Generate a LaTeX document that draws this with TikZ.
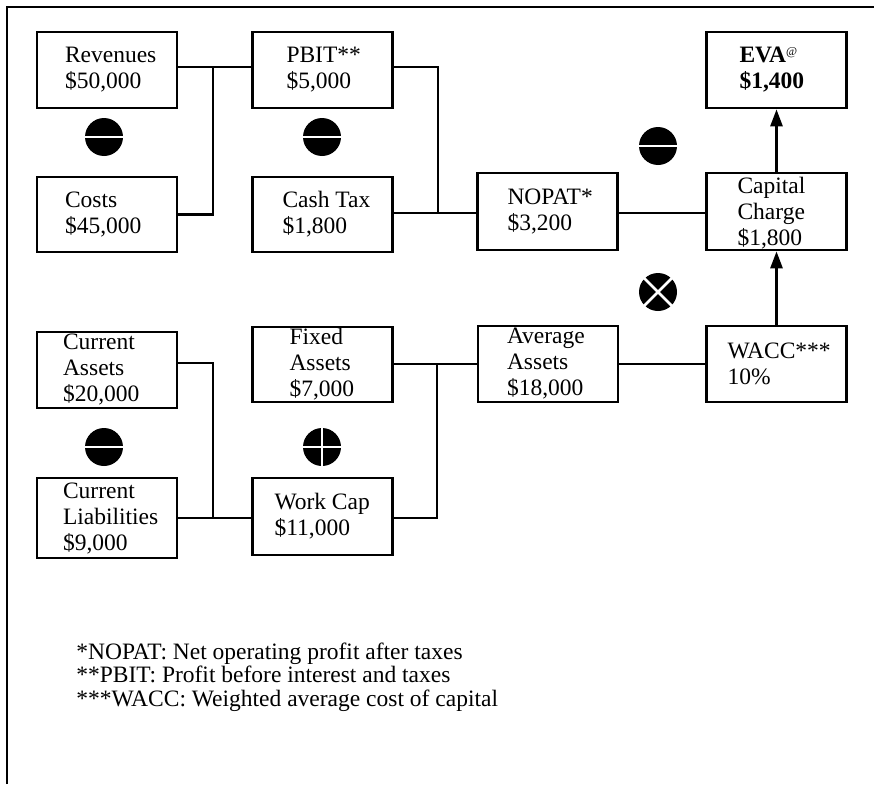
\documentclass[tikz,border=0pt]{standalone}
\usepackage{fontspec}
\setmainfont{Liberation Serif}
\usetikzlibrary{arrows.meta}
\begin{document}
\begin{tikzpicture}[x=1pt,y=-1pt,
  line width=2.7pt,
  box/.style={draw, rectangle, inner sep=0pt, minimum width=#1},
  box/.default=140pt,
  txt/.style={anchor=west, inner sep=0pt, align=left,
    font=\fontsize{23.5}{26}\selectfont},
  foot/.style={anchor=base west, inner sep=0pt,
    font=\fontsize{23.5}{26}\selectfont},
  op/.style={circle, fill=black, draw=none, inner sep=0pt, minimum size=38pt},
  cut/.style={draw=white, line width=2.8pt},
  link/.style={line width=2.7pt},
  flow/.style={line width=2.7pt, -{Triangle[length=17pt,width=12pt]}}
]
\useasboundingbox (0,0) rectangle (874,784);

% frame
\draw (7,784) -- (7,7) -- (874,7);

% income side
\node[box, minimum height=76pt] (rev)   at (107,70)    {};
\node[box, minimum height=75pt] (cost)  at (107,214.5) {};
\node[box, minimum height=76pt] (pbit)  at (322.5,70)  {};
\node[box, minimum height=75pt] (tax)   at (322.5,214.5) {};
\node[box, minimum height=77pt] (nopat) at (547.5,211.5) {};
\node[box, minimum height=77pt] (cc)    at (776.5,211.5) {};
\node[box, minimum height=76pt] (eva)   at (776.5,70)  {};

% capital side
\node[box, minimum height=76pt] (ca)    at (107,370)   {};
\node[box, minimum height=75pt] (fa)    at (322.5,364.5) {};
\node[box, minimum height=76pt] (avg)   at (548,364)   {};
\node[box, minimum height=76pt] (wacc)  at (776.5,364) {};
\node[box, minimum height=80pt] (cl)    at (107,518)   {};
\node[box, minimum height=77pt] (wc)    at (322.5,516.5) {};

% box texts
\node[txt] (revt)   at ([xshift=28pt]rev.west)   {Revenues\\\$50,000};
\node[txt] (costt)  at ([xshift=28pt]cost.west)  {Costs\\\$45,000};
\node[txt] (pbitt)  at ([xshift=34pt]pbit.west)  {PBIT**\\\$5,000};
\node[txt] (taxt)   at ([xshift=30pt]tax.west)   {Cash Tax\\\$1,800};
\node[txt] (nopatt) at ([xshift=30pt]nopat.west) {NOPAT*\\\$3,200};
\node[txt] (cct)    at ([xshift=31pt,yshift=-2pt]cc.west) {Capital\\Charge\\\$1,800};
\node[txt] (evat)   at ([xshift=33pt]eva.west)   {\textbf{EVA}\raisebox{7pt}{\fontsize{12}{12}\selectfont @}\\\textbf{\$1,400}};
\node[txt] (cat)    at ([xshift=26pt]ca.west)    {Current\\Assets\\\$20,000};
\node[txt] (fat)    at ([xshift=37pt]fa.west)    {Fixed\\Assets\\\$7,000};
\node[txt] (avgt)   at ([xshift=29pt]avg.west)   {Average\\Assets\\\$18,000};
\node[txt] (wacct)  at ([xshift=21pt]wacc.west)  {WACC***\\10\%};
\node[txt] (clt)    at ([xshift=26pt,yshift=-1pt]cl.west) {Current\\Liabilities\\\$9,000};
\node[txt] (wct)    at ([xshift=22pt]wc.west)    {Work Cap\\\$11,000};

% operator signs
\node[op] (m1) at (104,137) {};
\node[op] (m2) at (322,137) {};
\node[op] (m3) at (658,146) {};
\node[op] (x1) at (658,292) {};
\node[op] (m4) at (104,447) {};
\node[op] (p1) at (322,447) {};
\draw[cut] (m1.west) -- (m1.east);
\draw[cut] (m2.west) -- (m2.east);
\draw[cut] (m3.west) -- (m3.east);
\draw[cut] (m4.west) -- (m4.east);
\draw[cut] (p1.west) -- (p1.east);
\draw[cut] (p1.north) -- (p1.south);
\draw[cut] (x1.north west) -- (x1.south east);
\draw[cut] (x1.north east) -- (x1.south west);

% junction points
\coordinate (j1) at (213,67);
\coordinate (j2) at (438,213);
\coordinate (j3) at (213,518);
\coordinate (j4) at (437,364);

% connectors
\draw[link] (rev.east |- j1) -- (pbit.west |- j1);
\draw[link] (cost.east) -| (j1);
\draw[link] (pbit.east |- j1) -| (j2);
\draw[link] (tax.east |- j2) -- (nopat.west |- j2);
\draw[link] (nopat.east |- j2) -- (cc.west |- j2);
\draw[link] ([yshift=7pt]ca.east) -| (j3);
\draw[link] (cl.east |- j3) -- (wc.west |- j3);
\draw[link] (fa.east |- j4) -- (avg.west |- j4);
\draw[link] (j4) |- (wc.east |- j3);
\draw[link] (avg.east |- j4) -- (wacc.west |- j4);
\draw[flow] (wacc.north) -- (cc.south);
\draw[flow] (cc.north) -- (eva.south);

% notes
\node[foot] (f1) at (75,659) {*NOPAT: Net operating profit after taxes};
\node[foot] (f2) at (75,682.5) {**PBIT: Profit before interest and taxes};
\node[foot] (f3) at (75,706) {***WACC: Weighted average cost of capital};
\end{tikzpicture}
\end{document}
